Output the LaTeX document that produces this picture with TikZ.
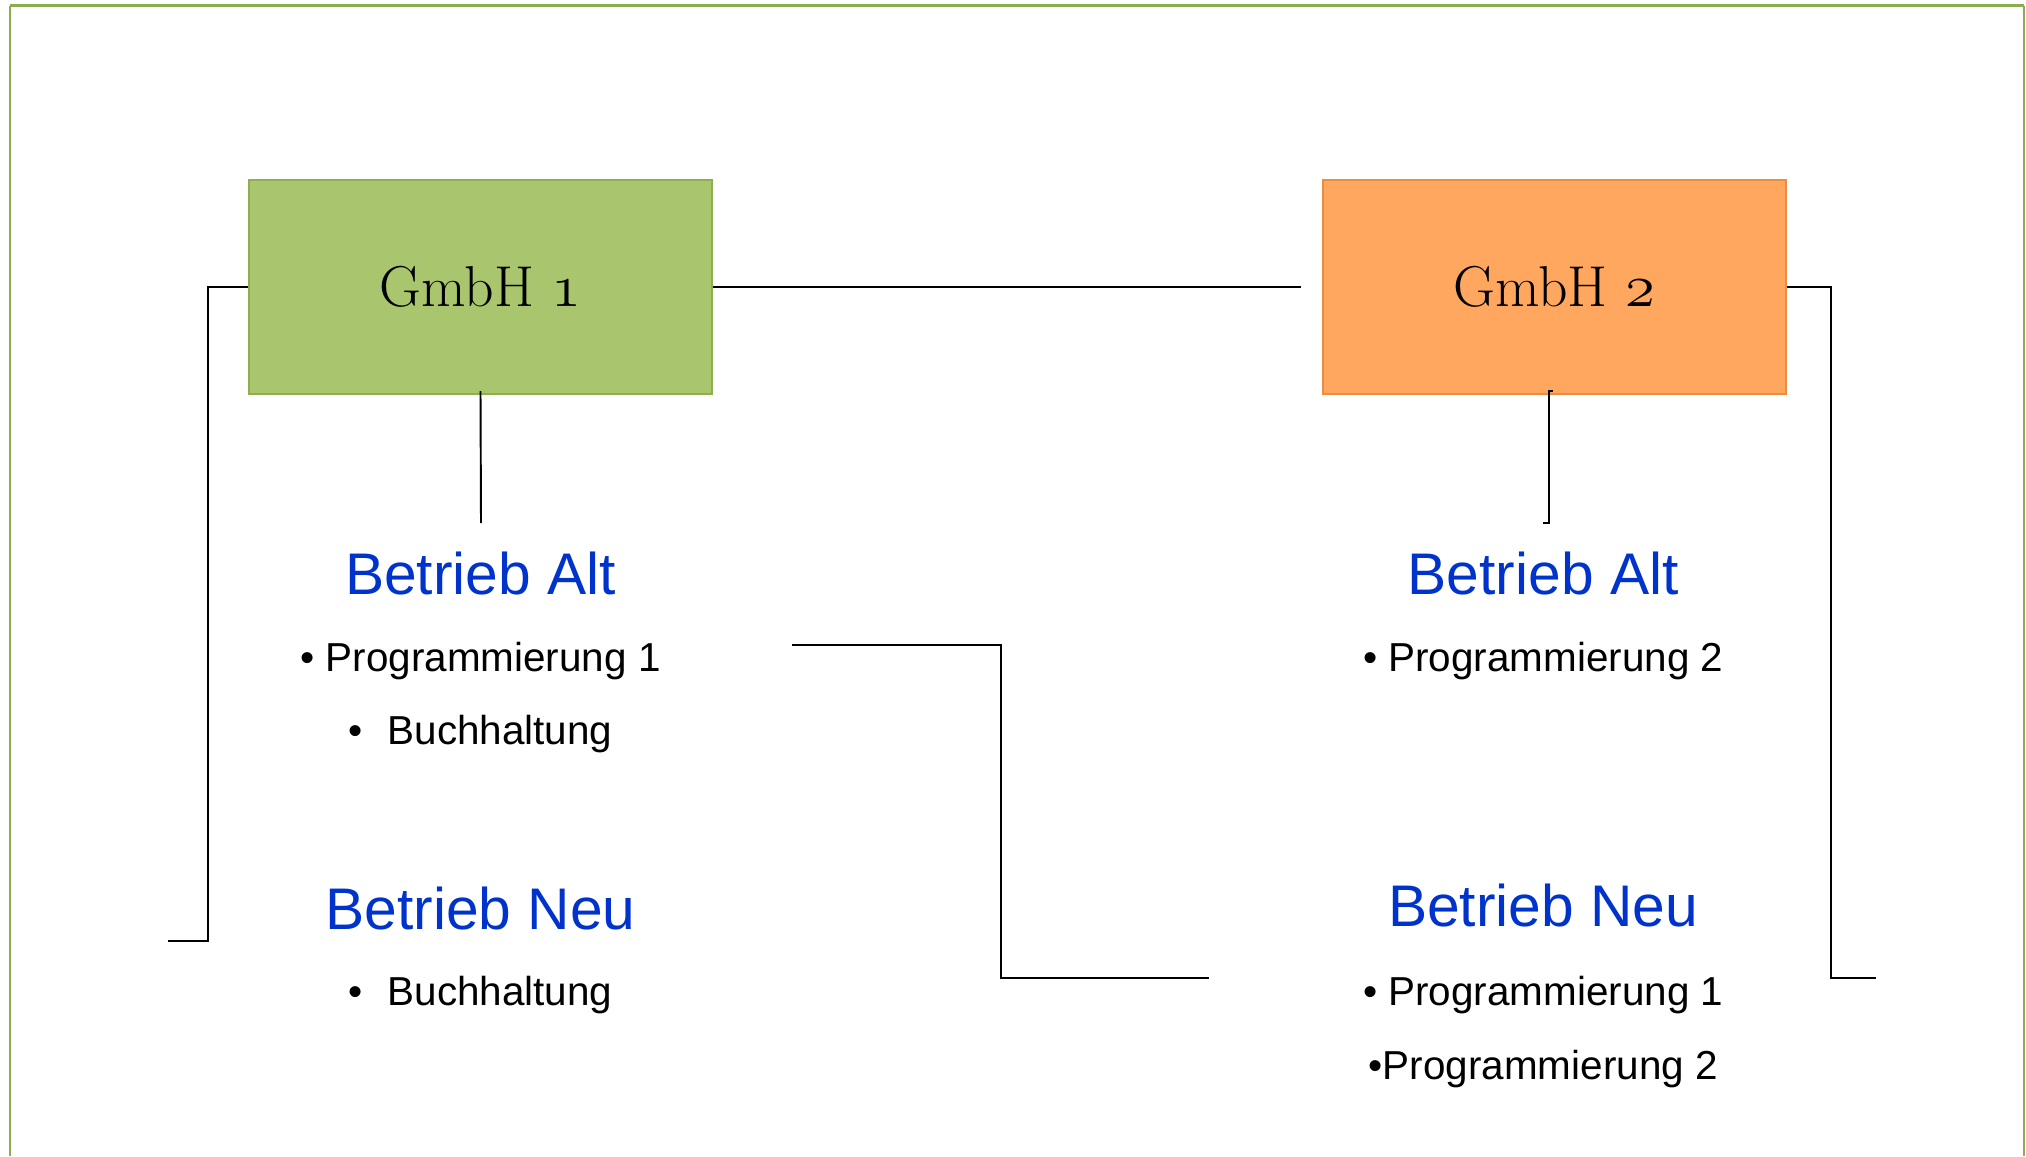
\documentclass[tikz,border=0pt]{standalone}
\usepackage{fontspec}
\setsansfont{Liberation Sans}
\usetikzlibrary{positioning}
\definecolor{gmbhgreen}{RGB}{169,198,110}
\definecolor{gmbhgreenline}{RGB}{142,174,80}
\definecolor{gmbhorange}{RGB}{255,166,95}
\definecolor{gmbhorangeline}{RGB}{236,140,62}
\definecolor{betriebblue}{RGB}{0,51,204}
\definecolor{framegreen}{RGB}{141,172,80}
\newcommand\osn[1]{{\usefont{OML}{cmm}{m}{it}#1}}
\tikzset{
    gmbh/.style = {
        minimum width=4.63cm,
        minimum height=2.14cm,
        line width=0.6pt,
        font=\fontsize{16.4}{19}\selectfont,
        },
    betrieb/.style = {
        text = betriebblue,
        inner sep=0pt,
        font=\sffamily\fontsize{16.7}{20}\selectfont,
        },
    task/.style = {
        inner sep=0pt,
        font=\sffamily\fontsize{11.5}{13}\selectfont,
        },
    conn/.style = {
        draw,
        line width=0.55pt,
        },
    frame line/.style = {
        draw=framegreen,
        line width=0.35pt,
        }
}

\begin{document}
\begin{tikzpicture}[x=0.01cm, y=-0.01cm]
            \useasboundingbox (0,0) rectangle (2026,1156);
            \draw[frame line] (10,1156) -- (10,5.5);
            \draw[frame line] (2024,1156) -- (2024,5.5);
            \draw[frame line, line width=0.7pt] (10,5.5) -- (2024,5.5);

            \node[gmbh, fill=gmbhgreen, draw=gmbhgreenline] (g1) at (480.5,287) {GmbH \osn{1}};
            \node[gmbh, fill=gmbhorange, draw=gmbhorangeline, right=6.08cm of g1] (g2) {GmbH \osn{2}};

            \node[betrieb, below=1.99cm of g1.south, anchor=base] (altL) {Betrieb Alt};
            \node[task, below=0.77cm of altL.base, anchor=base] (prog1L) {• Programmierung 1};
            \node[task, below=0.73cm of prog1L.base, anchor=base] (buchL) {•\hspace{0.25cm}Buchhaltung};
            \node[betrieb, below=3.35cm of altL.base, anchor=base] (neuL) {Betrieb Neu};
            \node[task, below=0.76cm of neuL.base, anchor=base] (buchN) {•\hspace{0.25cm}Buchhaltung};

            \node[betrieb, below=1.99cm of g2.south, xshift=-0.11cm, anchor=base] (altR) {Betrieb Alt};
            \node[task, below=0.77cm of altR.base, anchor=base] (prog2R) {• Programmierung 2};
            \node[betrieb, below=3.32cm of altR.base, anchor=base] (neuR) {Betrieb Neu};
            \node[task, below=0.79cm of neuR.base, anchor=base] (prog1N) {• Programmierung 1};
            \node[task, below=0.74cm of prog1N.base, anchor=base] (prog2N) {•Programmierung 2};

            % free ends of the connectors
            \coordinate (endL) at (168,941);
            \coordinate (tipL) at (481,523);
            \coordinate (tipR) at (1543,523);
            \coordinate (endR) at (1876,978);
            \coordinate (startM) at (792,645);
            \coordinate (endM) at (1209,978);

            \draw[conn] (g1.west) -- ++(-40,0) |- (endL);
            \draw[conn] (g1.east) -- ([xshift=-0.21cm]g2.west);
            \draw[conn] ([yshift=0.04cm]g1.south) -- (tipL);
            \draw[conn] ([xshift=-0.01cm, yshift=0.04cm]g2.south) -- ++(-4,0) |- (tipR);
            \draw[conn] (g2.east) -- ++(44,0) |- (endR);
            \draw[conn] (startM) -- ++(209,0) |- (endM);
        \end{tikzpicture}
\end{document}
